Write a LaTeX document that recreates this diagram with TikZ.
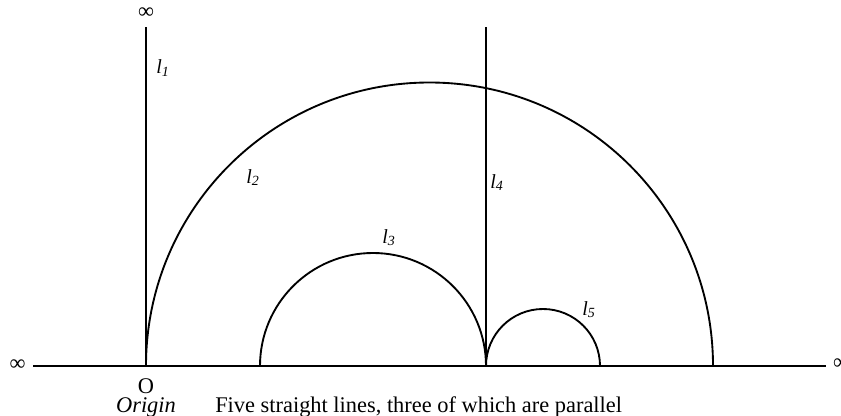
\documentclass[tikz,border=0pt]{standalone}
\usepackage{fontspec}
\setmainfont{Liberation Serif}
\begin{document}
\begin{tikzpicture}[x=0.75pt,y=0.75pt,
  geo/.style={line width=1.4pt,line cap=butt},
  lab/.style={anchor=base west,inner sep=0pt,font=\fontsize{15}{17}\selectfont\itshape},
  txt/.style={inner sep=0pt,font=\fontsize{16.8}{19}\selectfont}]
\useasboundingbox (0,0) rectangle (841,415);
% key points
\coordinate (L) at (33,49);
\coordinate (R) at (826,49);
\coordinate (O) at (146,49);
\coordinate (T1) at (146,388);
\coordinate (P4) at (486,49);
\coordinate (T4) at (486,388);
\coordinate (A3) at (260,49);
\coordinate (B2) at (713,49);
\coordinate (B5) at (600,49);
% axis
\draw[geo] (L) -- (R);
% vertical lines
\draw[geo] (O) -- (T1);
\draw[geo] (P4) -- (T4);
% semicircles
\draw[geo] (O) arc[start angle=180,end angle=0,radius=283.5];
\draw[geo] (A3) arc[start angle=180,end angle=0,radius=113];
\draw[geo] (P4) arc[start angle=180,end angle=0,radius=57];
% infinity marks
\node[txt] (infL) at (17.5,50) {∞};
\node[txt] (infR) at (841,51) {∞};
\node[txt] (infT) at (146,402) {∞};
% labels
\node[lab] (l1) at (156,341) {l\textsubscript{1}};
\node[lab] (l2) at (246,232) {l\textsubscript{2}};
\node[lab] (l3) at (382,172) {l\textsubscript{3}};
\node[lab] (l4) at (490,227) {l\textsubscript{4}};
\node[lab] (l5) at (582,100) {l\textsubscript{5}};
\node[txt,anchor=base] (Olab) at (146,22) {O};
\node[txt,anchor=base,font=\fontsize{16.8}{19}\selectfont\itshape] (orig) at (146,3) {Origin};
\node[txt,anchor=base west] (cap) at (215,3) {Five straight lines, three of which are parallel};
\end{tikzpicture}
\end{document}
